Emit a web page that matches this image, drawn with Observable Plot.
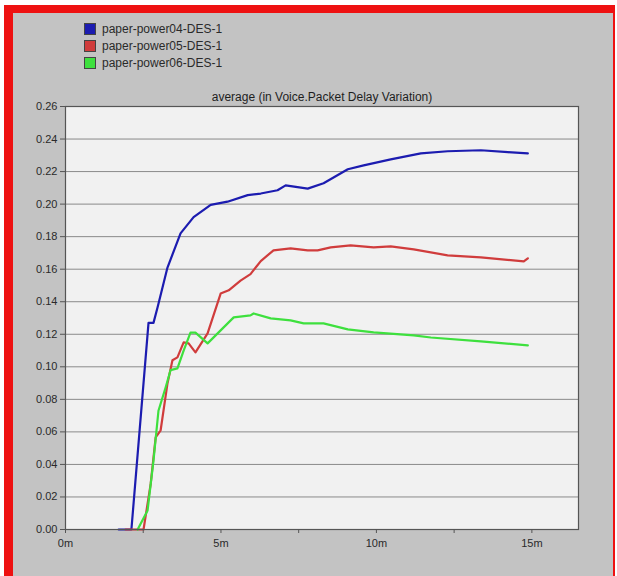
<!DOCTYPE html>
<html>
<head>
<meta charset="utf-8">
<script src="https://cdn.jsdelivr.net/npm/d3@7"></script>
<script src="https://cdn.jsdelivr.net/npm/@observablehq/plot@0.6"></script>
<style>
  html, body { margin: 0; padding: 0; background: #ffffff; }
  #page { position: relative; width: 617px; height: 576px; overflow: hidden; font-family: "Liberation Sans", Arial, sans-serif; }
  #redframe { position: absolute; left: 4px; top: 5px; width: 611px; height: 571px; background: #ee1111; }
  #gray { position: absolute; left: 13px; top: 13px; width: 600px; height: 563px; background: #c3c3c3; }
  #legend { position: absolute; left: 84px; top: 20px; font-size: 12px; color: #2a2a2a; }
  .item { display: flex; align-items: center; height: 17px; }
  .sw { width: 10px; height: 10px; border: 1px solid #444; margin-right: 6px; box-sizing: content-box; }
  #chart { position: absolute; left: 0; top: 80px; }
</style>
</head>
<body>
<div id="page">
  <div id="redframe"></div>
  <div id="gray"></div>
  <div id="legend"></div>
  <div id="chart"></div>
</div>
<script>
const seriesNames = ["paper-power04-DES-1", "paper-power05-DES-1", "paper-power06-DES-1"];
const seriesColors = ["#1c1cb0", "#d03c3c", "#3ee03e"];

// time in minutes, values in seconds
const blueT = [1.71, 2.12, 2.67, 2.83, 2.96, 3.28, 3.70, 4.12, 4.67, 5.21, 5.86, 6.28, 6.82, 7.08, 7.79, 8.30, 9.08, 9.59, 10.46, 11.43, 12.29, 13.36, 14.23, 14.87];
const blueV = [0, 0, 0.127, 0.127, 0.1365, 0.161, 0.182, 0.192, 0.1995, 0.2015, 0.2055, 0.2065, 0.2085, 0.2115, 0.2095, 0.2128, 0.2214, 0.2238, 0.2275, 0.2312, 0.2325, 0.2331, 0.2319, 0.2312];

const redT = [1.93, 2.51, 2.74, 2.90, 3.06, 3.28, 3.44, 3.60, 3.80, 3.96, 4.18, 4.57, 4.99, 5.25, 5.63, 5.95, 6.28, 6.69, 7.24, 7.79, 8.11, 8.53, 9.17, 9.91, 10.46, 11.20, 12.29, 13.36, 14.74, 14.87];
const redV = [0, 0, 0.028, 0.0566, 0.061, 0.0898, 0.104, 0.1058, 0.115, 0.1144, 0.1089, 0.1206, 0.145, 0.147, 0.153, 0.157, 0.165, 0.1716, 0.1728, 0.1716, 0.1716, 0.1734, 0.1746, 0.1734, 0.174, 0.1722, 0.1685, 0.1673, 0.1648, 0.1667];

const greenT = [2.32, 2.64, 2.83, 2.99, 3.22, 3.38, 3.60, 3.80, 4.02, 4.18, 4.57, 4.99, 5.41, 5.95, 6.05, 6.60, 7.24, 7.66, 8.30, 9.08, 9.91, 11.20, 11.75, 13.36, 14.87];
const greenV = [0, 0.0117, 0.0424, 0.073, 0.0873, 0.098, 0.099, 0.110, 0.121, 0.121, 0.1144, 0.1224, 0.1304, 0.1316, 0.1328, 0.1298, 0.1285, 0.1267, 0.1267, 0.123, 0.1212, 0.1193, 0.118, 0.1156, 0.1132];

const xTicks = [0, 2.5, 5, 7.5, 10, 12.5, 15];
const xLabels = {0: "0m", 5: "5m", 10: "10m", 15: "15m"};
const yTicks = [0, 0.02, 0.04, 0.06, 0.08, 0.10, 0.12, 0.14, 0.16, 0.18, 0.20, 0.22, 0.24, 0.26];
const chartTitle = "average (in Voice.Packet Delay Variation)";

const data = [];
[[blueT, blueV], [redT, redV], [greenT, greenV]].forEach(([ts, vs], i) => {
  ts.forEach((t, j) => data.push({series: seriesNames[i], t, v: vs[j]}));
});

// legend
const legend = document.getElementById("legend");
seriesNames.forEach((name, i) => {
  const it = document.createElement("div");
  it.className = "item";
  const sw = document.createElement("div");
  sw.className = "sw";
  sw.style.background = seriesColors[i];
  it.appendChild(sw);
  it.appendChild(document.createTextNode(name));
  legend.appendChild(it);
});

const chart = Plot.plot({
  width: 617,
  height: 496,
  marginLeft: 65,
  marginRight: 39,
  marginTop: 26,
  marginBottom: 47,
  style: {background: "transparent", fontFamily: "Liberation Sans, Arial, sans-serif", fontSize: "11px", color: "#2a2a2a"},
  x: {domain: [0, 16.5], ticks: xTicks, tickFormat: d => xLabels[d] ?? "", tickSize: 4, tickPadding: 6, label: null},
  y: {domain: [0, 0.26], ticks: yTicks, tickFormat: d3.format(".2f"), tickSize: 5, tickPadding: 3, label: null},
  color: {domain: seriesNames, range: seriesColors},
  marks: [
    Plot.frame({fill: "#f1f1f1", stroke: "none"}),
    Plot.gridY(yTicks, {stroke: "#8a8a8a", strokeOpacity: 1, strokeWidth: 1}),
    Plot.line(data, {x: "t", y: "v", z: "series", stroke: "series", strokeWidth: 2.2, curve: "linear"}),
    Plot.frame({stroke: "#555555", strokeWidth: 1.2}),
    Plot.axisX({ticks: xTicks, tickFormat: d => xLabels[d] ?? "", tickSize: 4, tickPadding: 6, stroke: "#555", fill: "#2a2a2a"}),
    Plot.axisY({ticks: yTicks, tickFormat: d3.format(".2f"), tickSize: 5, tickPadding: 3, stroke: "#555", fill: "#2a2a2a"}),
    Plot.text([chartTitle], {frameAnchor: "top", dy: -14, text: d => d, fontSize: 12, fill: "#1e1e1e"})
  ]
});
document.getElementById("chart").appendChild(chart);
</script>
</body>
</html>
